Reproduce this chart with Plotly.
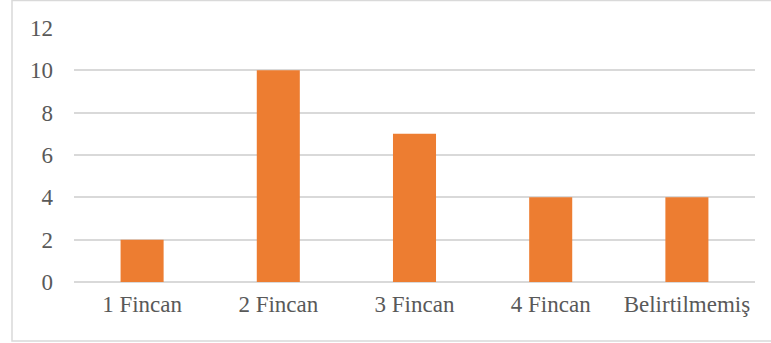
import plotly.graph_objects as go

categories = ["1 Fincan", "2 Fincan", "3 Fincan", "4 Fincan", "Belirtilmemiş"]
values = [2, 10, 7, 4, 4]
y_ticks = [0, 2, 4, 6, 8, 10, 12]

L, R, T, B = 74, 16, 28, 61
W, H = 771, 343
pw, ph = W - L - R, H - T - B

fig = go.Figure(go.Bar(x=categories, y=values, marker_color="#ED7D31", marker_line_width=0))

fig.update_layout(
    width=W, height=H,
    margin=dict(l=L, r=R, t=T, b=B),
    paper_bgcolor="white", plot_bgcolor="white",
    bargap=0.684,
    showlegend=False,
    font=dict(family="Liberation Serif, Times New Roman, serif", size=23, color="#595959"),
    xaxis=dict(showgrid=False, showline=False, zeroline=False, ticks="", ticklabelstandoff=6),
    yaxis=dict(range=[0, 12], tickvals=y_ticks, showgrid=True, gridcolor="#D9D9D9", gridwidth=1.5,
               zeroline=True, zerolinecolor="#D9D9D9", zerolinewidth=1.5, showline=False,
               ticks="", ticklabelstandoff=20),
    shapes=[dict(type="rect", xref="paper", yref="paper",
                 x0=(12 - L) / pw, x1=(775 - L) / pw,
                 y0=(H - B - 341) / ph, y1=(H - B - 0.5) / ph,
                 line=dict(color="#D9D9D9", width=1.5), fillcolor="rgba(0,0,0,0)", layer="below")],
)

fig.write_html("out.html")
